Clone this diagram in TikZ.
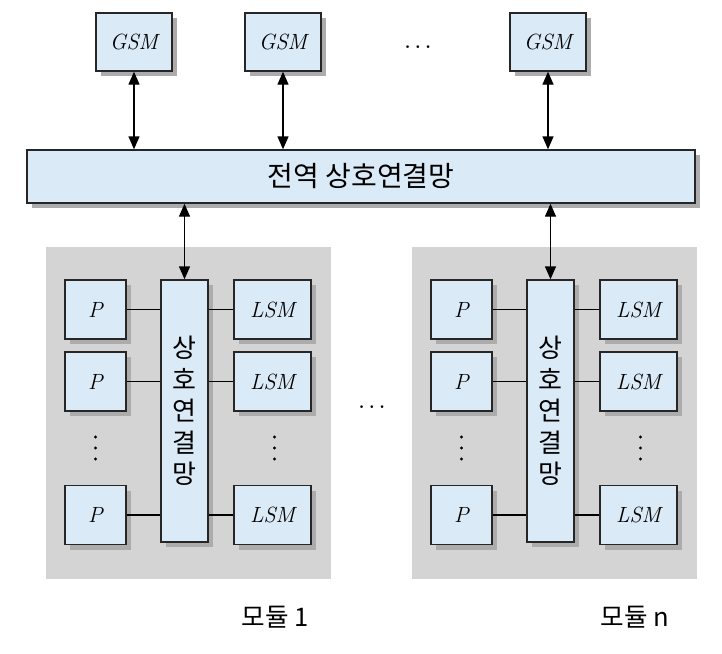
\documentclass[tikz,border=0pt]{standalone}
\usepackage{fontspec}
\newfontfamily\kr{Noto Sans CJK KR}
\usetikzlibrary{arrows.meta, positioning, calc, shadows}
\definecolor{cellblue}{RGB}{219,234,247}
\definecolor{modgray}{RGB}{212,212,212}
\definecolor{shadegray}{RGB}{172,172,172}
\newcommand{\kell}{.\kern1.3pt.\kern1.3pt.}

\begin{document}
\begin{tikzpicture}[x=0.5pt, y=-0.5pt,
  cell/.style={draw=black!85, line width=0.7pt, fill=cellblue, inner sep=0pt,
    drop shadow={shadow xshift=2.5pt, shadow yshift=-2.5pt, fill=shadegray, opacity=1},
    font=\fontsize{11}{13}\selectfont\itshape},
  module/.style={fill=modgray, inner sep=0pt, minimum width=142.5pt, minimum height=166pt},
  link/.style={line width=0.6pt},
  dlink/.style={line width=0.7pt, {Triangle[length=6.5pt,width=5.5pt]}-{Triangle[length=6.5pt,width=5.5pt]}},
  klabel/.style={font=\kr\fontsize{12.8}{14}\selectfont},
  dots/.style={font=\fontsize{14}{16}\selectfont, inner sep=0pt},
]
\useasboundingbox (0,0) rectangle (722,653);

% global network and shared memories
\node[cell, minimum width=334pt, minimum height=26.5pt, font=\kr\fontsize{14}{16}\selectfont] (gnet) at (361,176.5) {전역 상호연결망};
\foreach \x [count=\i] in {134,283,548} {
  \node[cell, minimum width=38pt, minimum height=29pt] (gsm\i) at (\x,42) {GSM};
  \draw[dlink] (gsm\i.south) -- (gsm\i.south |- gnet.north);
}
\node[dots] (gdots) at (418,47) {\kell};
\node[dots] (mdots) at (372,407) {\kell};

% modules
\foreach \m/\dx/\lx in {1/0/275, n/366/635} {
  \node[module] (mod\m) at (188.5+\dx,413) {};
  \node[cell, minimum width=23.5pt, minimum height=131pt, align=center,
    font=\kr\fontsize{13}{15.8}\selectfont] (net\m) at (184.5+\dx,411) {상\\호\\연\\결\\망};
  \foreach \r/\y in {1/309.5, 2/381.5, 3/515} {
    \node[cell, minimum width=30.5pt, minimum height=29.5pt] (p\m\r) at (95.5+\dx,\y) {P};
    \node[cell, minimum width=38.5pt, minimum height=29.5pt] (lsm\m\r) at (272.5+\dx,\y) {LSM};
    \draw[link] (p\m\r.east) -- (p\m\r.east -| net\m.west);
    \draw[link] (lsm\m\r.west -| net\m.east) -- (lsm\m\r.west);
  }
  % vertical dots
  \foreach \yy in {437,448,459} {
    \fill (95.5+\dx,\yy) circle (1.6);
    \fill (274.5+\dx,\yy) circle (1.6);
  }
  \draw[dlink] (gnet.south -| net\m.north) -- (net\m.north);
  \node[klabel] (lab\m) at (\lx,617) {모듈 \m};
}

\end{tikzpicture}
\end{document}
